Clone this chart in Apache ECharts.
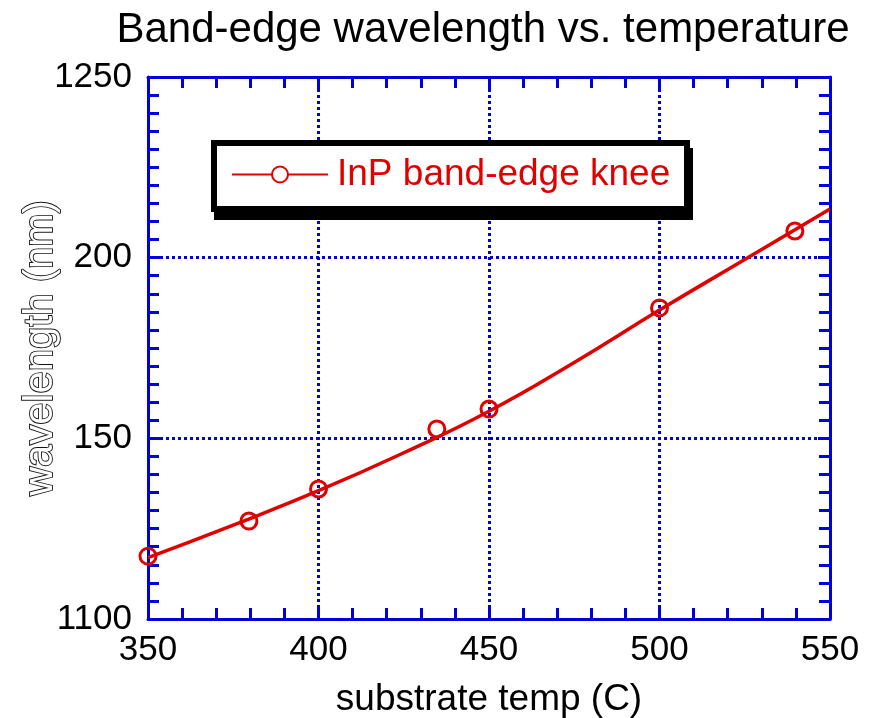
<!DOCTYPE html>
<html><head><meta charset="utf-8">
<script src="https://cdn.jsdelivr.net/npm/echarts@6/dist/echarts.min.js"></script>
<style>html,body{margin:0;padding:0;background:#fff}#c{width:880px;height:718px}</style>
</head><body><div id="c"></div>
<script>
// measured data points (substrate temp C, wavelength nm)
const tempPts = [350, 379.6, 400, 434.7, 450, 500, 539.7];
const wavePts = [1117.4, 1127.1, 1136.0, 1152.6, 1158.1, 1186.1, 1207.4];
// fitted curve
const fitTemp = [350, 375, 400, 425, 450, 475, 500, 525, 550];
const fitWave = [1117, 1126, 1135.5, 1146, 1157.5, 1171, 1185.5, 1199.5, 1213.5];
// y tick labels as printed in the chart
const yTickLabels = {1100: '1100', 1150: '150', 1200: '200', 1250: '1250'};
const seriesName = 'InP band-edge knee';

const blue = '#0000dd';
const red = '#e00000';
const font = 'Liberation Sans, Arial, sans-serif';

const chart = echarts.init(document.getElementById('c'));
const tickStyle = {color: blue, width: 3};
function axisCommon(split) {
  return {
    axisLine: {show: true, lineStyle: {color: blue, width: 3}},
    axisTick: {show: true, inside: true, length: 12, lineStyle: tickStyle},
    minorTick: {show: true, splitNumber: split, length: 11, lineStyle: tickStyle},
  };
}
const gridLine = {show: true, lineStyle: {color: blue, width: 3, type: [3, 3]}};
chart.setOption({
  animation: false,
  title: {text: 'Band-edge wavelength vs. temperature', left: 478, textAlign: 'center', top: 4,
    textStyle: {fontFamily: font, fontSize: 42, fontWeight: 'normal', color: '#000'}},
  grid: {left: 148, right: 50, top: 77, bottom: 99, outerBoundsMode: 'none', containLabel: false},
  graphic: [
    {type: 'rect', shape: {x: 214, y: 148, width: 479, height: 72}, style: {fill: '#000'}, z: 10},
    {type: 'rect', shape: {x: 214, y: 143, width: 473, height: 66},
      style: {fill: '#fff', stroke: '#000', lineWidth: 6}, z: 11}
  ],
  legend: {
    left: 231, top: 156, itemWidth: 96, itemHeight: 20, padding: 0, z: 20,
    textStyle: {fontFamily: font, fontSize: 37, color: red, padding: [0, 0, 0, 4]},
    data: [seriesName]
  },
  xAxis: [
    Object.assign({type: 'value', min: 350, max: 550, interval: 50, position: 'bottom',
      name: 'substrate temp (C)', nameLocation: 'middle', nameGap: 62,
      nameTextStyle: {fontFamily: font, fontSize: 37, color: '#000'},
      axisLabel: {fontFamily: font, fontSize: 35, color: '#000', margin: 14},
      splitLine: gridLine}, axisCommon(5)),
    Object.assign({type: 'value', min: 350, max: 550, interval: 50, position: 'top',
      axisLabel: {show: false}, splitLine: {show: false}}, axisCommon(5))
  ],
  yAxis: [
    Object.assign({type: 'value', min: 1100, max: 1250, interval: 50, position: 'left',
      name: 'wavelength (nm)', nameLocation: 'middle', nameGap: 87, nameMoveOverlap: false,
      nameTextStyle: {fontFamily: font, fontSize: 40, color: '#fff', textBorderColor: '#111', textBorderWidth: 1.8},
      axisLabel: {fontFamily: font, fontSize: 35, color: '#000', margin: 16,
        formatter: v => yTickLabels[v] !== undefined ? yTickLabels[v] : ''},
      splitLine: gridLine}, axisCommon(10)),
    Object.assign({type: 'value', min: 1100, max: 1250, interval: 50, position: 'right',
      axisLabel: {show: false}, splitLine: {show: false}}, axisCommon(10))
  ],
  series: [
    {name: seriesName, type: 'line', xAxisIndex: 0, yAxisIndex: 0,
      data: fitTemp.map((t, i) => [t, fitWave[i]]), smooth: true,
      symbol: 'emptyCircle', symbolSize: 15, showSymbol: false,
      lineStyle: {color: red, width: 3.5}, itemStyle: {color: red, borderColor: red, borderWidth: 3}, z: 3},
    {name: seriesName, type: 'scatter', xAxisIndex: 0, yAxisIndex: 0,
      data: tempPts.map((t, i) => [t, wavePts[i]]),
      symbol: 'circle', symbolSize: 16,
      itemStyle: {color: 'rgba(255,255,255,0)', borderColor: red, borderWidth: 3, opacity: 1}, z: 4}
  ]
});
</script></body></html>
